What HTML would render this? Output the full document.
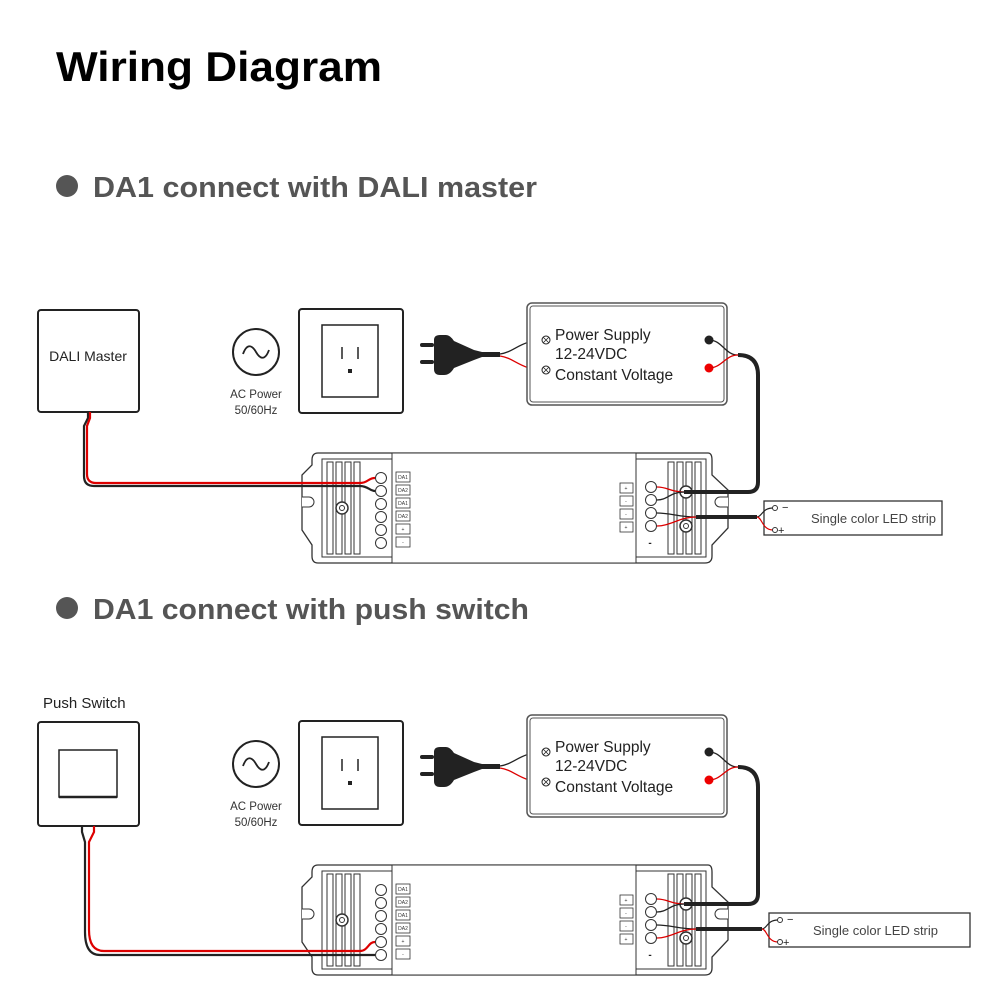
<!DOCTYPE html>
<html><head><meta charset="utf-8"><style>
html,body{margin:0;padding:0;background:#fff}
svg{display:block}
text{font-family:"Liberation Sans",sans-serif}
</style></head><body>
<svg width="1000" height="1000" viewBox="0 0 1000 1000" xmlns="http://www.w3.org/2000/svg">
<text x="56" y="81" font-size="42" font-weight="bold" fill="#000" textLength="326" lengthAdjust="spacingAndGlyphs">Wiring Diagram</text>
<circle cx="67" cy="186" r="11" fill="#555"/>
<text x="93" y="197" font-size="29" font-weight="bold" fill="#555" textLength="444" lengthAdjust="spacingAndGlyphs">DA1 connect with DALI master</text>
<circle cx="67" cy="608" r="11" fill="#555"/>
<text x="93" y="619" font-size="29" font-weight="bold" fill="#555" textLength="436" lengthAdjust="spacingAndGlyphs">DA1 connect with push switch</text>

<!-- Section 1 -->
<g id="s1">
<!-- DALI master -->
<rect x="38" y="310" width="101" height="102" rx="3" fill="#fff" stroke="#222" stroke-width="2"/>
<text x="88" y="361" font-size="14" text-anchor="middle" fill="#222">DALI Master</text>
</g>
<g id="common1">
<circle cx="256" cy="352" r="23" fill="none" stroke="#222" stroke-width="2"/>
<path d="M243 354 C247 343,252 345,256 352 C260 359,265 361,269 350" fill="none" stroke="#222" stroke-width="1.8"/>
<text x="256" y="398" font-size="11.5" text-anchor="middle" fill="#333">AC Power</text>
<text x="256" y="414" font-size="11.5" text-anchor="middle" fill="#333">50/60Hz</text>
<rect x="299" y="309" width="104" height="104" rx="3" fill="#fff" stroke="#222" stroke-width="2"/>
<rect x="322" y="325" width="56" height="72" fill="none" stroke="#222" stroke-width="1.5"/>
<line x1="342" y1="347" x2="342" y2="359" stroke="#222" stroke-width="1.5"/>
<line x1="358" y1="347" x2="358" y2="359" stroke="#222" stroke-width="1.5"/>
<rect x="348" y="369" width="4" height="4" fill="#222"/>
<!-- plug -->
<rect x="420" y="343" width="14" height="4" rx="2" fill="#222"/>
<rect x="420" y="360" width="14" height="4" rx="2" fill="#222"/>
<path d="M434 340 Q434 335 440 335 L446 335 Q450 335 454 341 L474 350 L482 352 L500 352 L500 357 L482 357 L474 360 L454 368 Q450 375 444 375 L440 375 Q434 375 434 369 Z" fill="#222"/>
<path d="M500 354 C515 352,520 340,545 340" fill="none" stroke="#222" stroke-width="1.3"/>
<path d="M500 356 C515 358,520 370,545 370" fill="none" stroke="#d00" stroke-width="1.3"/>
<!-- PSU -->
<rect x="527" y="303" width="200" height="102" rx="5" fill="#fff" stroke="#555" stroke-width="1.5"/>
<rect x="530" y="306" width="194" height="96" rx="3" fill="none" stroke="#555" stroke-width="1"/>
<circle cx="546" cy="340" r="4" fill="#fff" stroke="#222"/><path d="M543 337l6 6M549 337l-6 6" stroke="#222" stroke-width="0.8"/>
<circle cx="546" cy="370" r="4" fill="#fff" stroke="#222"/><path d="M543 367l6 6M549 367l-6 6" stroke="#222" stroke-width="0.8"/>
<text x="555" y="340" font-size="15.5" fill="#222">Power Supply</text>
<text x="555" y="359" font-size="15.5" fill="#222">12-24VDC</text>
<text x="555" y="380" font-size="15.5" fill="#222">Constant Voltage</text>
<circle cx="709" cy="340" r="4.5" fill="#222"/>
<circle cx="709" cy="368" r="4.5" fill="#e00"/>
<path d="M709 340 C722 340,725 355,738 355" fill="none" stroke="#222" stroke-width="1.3"/>
<path d="M709 368 C722 368,725 355,738 355" fill="none" stroke="#d00" stroke-width="1.3"/>
<!-- controller -->
<path d="M318 453 L708 453 Q712 453 712 460 L712 475 L728 490 L728 528 L712 545 L712 556 Q712 563 705 563 L318 563 Q312 563 312 556 L312 545 L302 530 L302 475 L312 465 L312 460 Q312 453 318 453 Z" fill="#fff" stroke="#333" stroke-width="1.3"/>
<path d="M302 497 L309 497 A5 5 0 0 1 309 507 L302 507" fill="#fff" stroke="#333" stroke-width="1"/>
<path d="M728 497 L720 497 A5 5 0 0 0 720 507 L728 507" fill="#fff" stroke="#333" stroke-width="1"/>
<rect x="322" y="459" width="70" height="98" fill="none" stroke="#333" stroke-width="1"/>
<rect x="392" y="453" width="244" height="110" fill="#fff" stroke="#333" stroke-width="1"/>
<rect x="636" y="459" width="70" height="98" fill="none" stroke="#333" stroke-width="1"/>
<g stroke="#333" stroke-width="1" fill="none">
<rect x="327" y="462" width="6" height="92"/><rect x="336" y="462" width="6" height="92"/><rect x="345" y="462" width="6" height="92"/><rect x="354" y="462" width="6" height="92"/>
<rect x="668" y="462" width="6" height="92"/><rect x="677" y="462" width="6" height="92"/><rect x="686" y="462" width="6" height="92"/><rect x="695" y="462" width="6" height="92"/>
</g>
<g fill="#fff" stroke="#333" stroke-width="1">
<circle cx="381" cy="478" r="5.5"/><circle cx="381" cy="491" r="5.5"/><circle cx="381" cy="504" r="5.5"/><circle cx="381" cy="517" r="5.5"/><circle cx="381" cy="530" r="5.5"/><circle cx="381" cy="543" r="5.5"/>
<circle cx="651" cy="487" r="5.5"/><circle cx="651" cy="500" r="5.5"/><circle cx="651" cy="513" r="5.5"/><circle cx="651" cy="526" r="5.5"/>
</g>
<g fill="#fff" stroke="#333" stroke-width="0.8">
<rect x="396" y="472" width="14" height="10"/><rect x="396" y="485" width="14" height="10"/><rect x="396" y="498" width="14" height="10"/><rect x="396" y="511" width="14" height="10"/><rect x="396" y="524" width="14" height="10"/><rect x="396" y="537" width="14" height="10"/>
<rect x="620" y="483" width="13" height="10"/><rect x="620" y="496" width="13" height="10"/><rect x="620" y="509" width="13" height="10"/><rect x="620" y="522" width="13" height="10"/>
</g>
<g font-size="5" fill="#333" text-anchor="middle">
<text x="403" y="479">DA1</text><text x="403" y="492">DA2</text><text x="403" y="505">DA1</text><text x="403" y="518">DA2</text><text x="403" y="531">+</text><text x="403" y="544">-</text>
<text x="626" y="490">+</text><text x="626" y="503">-</text><text x="626" y="516">-</text><text x="626" y="529">+</text>
</g>
<text x="650" y="546" font-size="10" font-weight="bold" fill="#222" text-anchor="middle">-</text>
<circle cx="342" cy="508" r="6" fill="#fff" stroke="#333" stroke-width="1.5"/><circle cx="342" cy="508" r="2.5" fill="none" stroke="#333"/>
<circle cx="686" cy="492" r="6" fill="#fff" stroke="#333" stroke-width="1.5"/>
<circle cx="686" cy="526" r="6" fill="#fff" stroke="#333" stroke-width="1.5"/><circle cx="686" cy="526" r="2.5" fill="none" stroke="#333"/>
<!-- right wiring -->
<path d="M738 355 Q758 355 758 375 L758 482 Q758 492 748 492 L684 492" fill="none" stroke="#222" stroke-width="4"/>
<path d="M684 492 C670 492,668 487,657 487" fill="none" stroke="#d00" stroke-width="1.3"/>
<path d="M684 492 C670 492,668 500,657 500" fill="none" stroke="#222" stroke-width="1.3"/>
<path d="M696 517 L757 517" fill="none" stroke="#222" stroke-width="4"/>
<path d="M696 517 C680 517,670 513,657 513" fill="none" stroke="#222" stroke-width="1.3"/>
<path d="M696 517 C680 517,670 526,657 526" fill="none" stroke="#d00" stroke-width="1.3"/>
</g>
<!-- LED strip 1 -->
<rect x="764" y="501" width="178" height="34" fill="#fff" stroke="#333" stroke-width="1.3"/>
<path d="M757 517 C762 517,762 508,773 508" fill="none" stroke="#222" stroke-width="1.2"/>
<path d="M757 517 C762 517,762 530,773 530" fill="none" stroke="#d00" stroke-width="1.2"/>
<circle cx="775" cy="508" r="2.5" fill="#fff" stroke="#333"/><circle cx="775" cy="530" r="2.5" fill="#fff" stroke="#333"/>
<text x="782" y="511" font-size="11" fill="#222">−</text><text x="778" y="534" font-size="11" fill="#222">+</text>
<text x="811" y="523" font-size="13" fill="#444">Single color LED strip</text>
<!-- DALI wire -->
<path d="M88 412 L88 418 L84 426 L84 476 Q84 486 94 486 L360 486 C368 486,370 491,375 491" fill="none" stroke="#222" stroke-width="2.2"/>
<path d="M90 412 L90 418 L87 426 L87 474 Q87 483 96 483 L360 483 C368 483,368 478,375 478" fill="none" stroke="#d00" stroke-width="2.2"/>

<!-- Section 2 -->
<text x="43" y="708" font-size="15" fill="#222">Push Switch</text>
<rect x="38" y="722" width="101" height="104" rx="3" fill="#fff" stroke="#222" stroke-width="2"/>
<rect x="59" y="750" width="58" height="47" fill="#fff" stroke="#222" stroke-width="1.5"/>
<line x1="59" y1="797" x2="117" y2="797" stroke="#222" stroke-width="2.5"/>
<g transform="translate(0,412)">
<circle cx="256" cy="352" r="23" fill="none" stroke="#222" stroke-width="2"/>
<path d="M243 354 C247 343,252 345,256 352 C260 359,265 361,269 350" fill="none" stroke="#222" stroke-width="1.8"/>
<text x="256" y="398" font-size="11.5" text-anchor="middle" fill="#333">AC Power</text>
<text x="256" y="414" font-size="11.5" text-anchor="middle" fill="#333">50/60Hz</text>
<rect x="299" y="309" width="104" height="104" rx="3" fill="#fff" stroke="#222" stroke-width="2"/>
<rect x="322" y="325" width="56" height="72" fill="none" stroke="#222" stroke-width="1.5"/>
<line x1="342" y1="347" x2="342" y2="359" stroke="#222" stroke-width="1.5"/>
<line x1="358" y1="347" x2="358" y2="359" stroke="#222" stroke-width="1.5"/>
<rect x="348" y="369" width="4" height="4" fill="#222"/>
<rect x="420" y="343" width="14" height="4" rx="2" fill="#222"/>
<rect x="420" y="360" width="14" height="4" rx="2" fill="#222"/>
<path d="M434 340 Q434 335 440 335 L446 335 Q450 335 454 341 L474 350 L482 352 L500 352 L500 357 L482 357 L474 360 L454 368 Q450 375 444 375 L440 375 Q434 375 434 369 Z" fill="#222"/>
<path d="M500 354 C515 352,520 340,545 340" fill="none" stroke="#222" stroke-width="1.3"/>
<path d="M500 356 C515 358,520 370,545 370" fill="none" stroke="#d00" stroke-width="1.3"/>
<rect x="527" y="303" width="200" height="102" rx="5" fill="#fff" stroke="#555" stroke-width="1.5"/>
<rect x="530" y="306" width="194" height="96" rx="3" fill="none" stroke="#555" stroke-width="1"/>
<circle cx="546" cy="340" r="4" fill="#fff" stroke="#222"/><path d="M543 337l6 6M549 337l-6 6" stroke="#222" stroke-width="0.8"/>
<circle cx="546" cy="370" r="4" fill="#fff" stroke="#222"/><path d="M543 367l6 6M549 367l-6 6" stroke="#222" stroke-width="0.8"/>
<text x="555" y="340" font-size="15.5" fill="#222">Power Supply</text>
<text x="555" y="359" font-size="15.5" fill="#222">12-24VDC</text>
<text x="555" y="380" font-size="15.5" fill="#222">Constant Voltage</text>
<circle cx="709" cy="340" r="4.5" fill="#222"/>
<circle cx="709" cy="368" r="4.5" fill="#e00"/>
<path d="M709 340 C722 340,725 355,738 355" fill="none" stroke="#222" stroke-width="1.3"/>
<path d="M709 368 C722 368,725 355,738 355" fill="none" stroke="#d00" stroke-width="1.3"/>
<path d="M318 453 L708 453 Q712 453 712 460 L712 475 L728 490 L728 528 L712 545 L712 556 Q712 563 705 563 L318 563 Q312 563 312 556 L312 545 L302 530 L302 475 L312 465 L312 460 Q312 453 318 453 Z" fill="#fff" stroke="#333" stroke-width="1.3"/>
<path d="M302 497 L309 497 A5 5 0 0 1 309 507 L302 507" fill="#fff" stroke="#333" stroke-width="1"/>
<path d="M728 497 L720 497 A5 5 0 0 0 720 507 L728 507" fill="#fff" stroke="#333" stroke-width="1"/>
<rect x="322" y="459" width="70" height="98" fill="none" stroke="#333" stroke-width="1"/>
<rect x="392" y="453" width="244" height="110" fill="#fff" stroke="#333" stroke-width="1"/>
<rect x="636" y="459" width="70" height="98" fill="none" stroke="#333" stroke-width="1"/>
<g stroke="#333" stroke-width="1" fill="none">
<rect x="327" y="462" width="6" height="92"/><rect x="336" y="462" width="6" height="92"/><rect x="345" y="462" width="6" height="92"/><rect x="354" y="462" width="6" height="92"/>
<rect x="668" y="462" width="6" height="92"/><rect x="677" y="462" width="6" height="92"/><rect x="686" y="462" width="6" height="92"/><rect x="695" y="462" width="6" height="92"/>
</g>
<g fill="#fff" stroke="#333" stroke-width="1">
<circle cx="381" cy="478" r="5.5"/><circle cx="381" cy="491" r="5.5"/><circle cx="381" cy="504" r="5.5"/><circle cx="381" cy="517" r="5.5"/><circle cx="381" cy="530" r="5.5"/><circle cx="381" cy="543" r="5.5"/>
<circle cx="651" cy="487" r="5.5"/><circle cx="651" cy="500" r="5.5"/><circle cx="651" cy="513" r="5.5"/><circle cx="651" cy="526" r="5.5"/>
</g>
<g fill="#fff" stroke="#333" stroke-width="0.8">
<rect x="396" y="472" width="14" height="10"/><rect x="396" y="485" width="14" height="10"/><rect x="396" y="498" width="14" height="10"/><rect x="396" y="511" width="14" height="10"/><rect x="396" y="524" width="14" height="10"/><rect x="396" y="537" width="14" height="10"/>
<rect x="620" y="483" width="13" height="10"/><rect x="620" y="496" width="13" height="10"/><rect x="620" y="509" width="13" height="10"/><rect x="620" y="522" width="13" height="10"/>
</g>
<g font-size="5" fill="#333" text-anchor="middle">
<text x="403" y="479">DA1</text><text x="403" y="492">DA2</text><text x="403" y="505">DA1</text><text x="403" y="518">DA2</text><text x="403" y="531">+</text><text x="403" y="544">-</text>
<text x="626" y="490">+</text><text x="626" y="503">-</text><text x="626" y="516">-</text><text x="626" y="529">+</text>
</g>
<text x="650" y="546" font-size="10" font-weight="bold" fill="#222" text-anchor="middle">-</text>
<circle cx="342" cy="508" r="6" fill="#fff" stroke="#333" stroke-width="1.5"/><circle cx="342" cy="508" r="2.5" fill="none" stroke="#333"/>
<circle cx="686" cy="492" r="6" fill="#fff" stroke="#333" stroke-width="1.5"/>
<circle cx="686" cy="526" r="6" fill="#fff" stroke="#333" stroke-width="1.5"/><circle cx="686" cy="526" r="2.5" fill="none" stroke="#333"/>
<path d="M738 355 Q758 355 758 375 L758 482 Q758 492 748 492 L684 492" fill="none" stroke="#222" stroke-width="4"/>
<path d="M684 492 C670 492,668 487,657 487" fill="none" stroke="#d00" stroke-width="1.3"/>
<path d="M684 492 C670 492,668 500,657 500" fill="none" stroke="#222" stroke-width="1.3"/>
<path d="M696 517 L762 517" fill="none" stroke="#222" stroke-width="4"/>
<path d="M696 517 C680 517,670 513,657 513" fill="none" stroke="#222" stroke-width="1.3"/>
<path d="M696 517 C680 517,670 526,657 526" fill="none" stroke="#d00" stroke-width="1.3"/>
</g>
<!-- LED strip 2 -->
<rect x="769" y="913" width="201" height="34" fill="#fff" stroke="#333" stroke-width="1.3"/>
<path d="M762 929 C767 929,767 920,778 920" fill="none" stroke="#222" stroke-width="1.2"/>
<path d="M762 929 C767 929,767 942,778 942" fill="none" stroke="#d00" stroke-width="1.2"/>
<circle cx="780" cy="920" r="2.5" fill="#fff" stroke="#333"/><circle cx="780" cy="942" r="2.5" fill="#fff" stroke="#333"/>
<text x="787" y="923" font-size="11" fill="#222">−</text><text x="783" y="946" font-size="11" fill="#222">+</text>
<text x="813" y="935" font-size="13" fill="#444">Single color LED strip</text>
<!-- push switch wire -->
<path d="M82 826 L82 832 L85 842 L85 932 Q85 955 100 955 L360 955 C368 955,370 955,375 955" fill="none" stroke="#222" stroke-width="2.2"/>
<path d="M94 826 L94 832 L89 842 L89 930 Q89 951 104 951 L360 951 C368 951,368 942,375 942" fill="none" stroke="#d00" stroke-width="2.2"/>
</svg>
</body></html>
